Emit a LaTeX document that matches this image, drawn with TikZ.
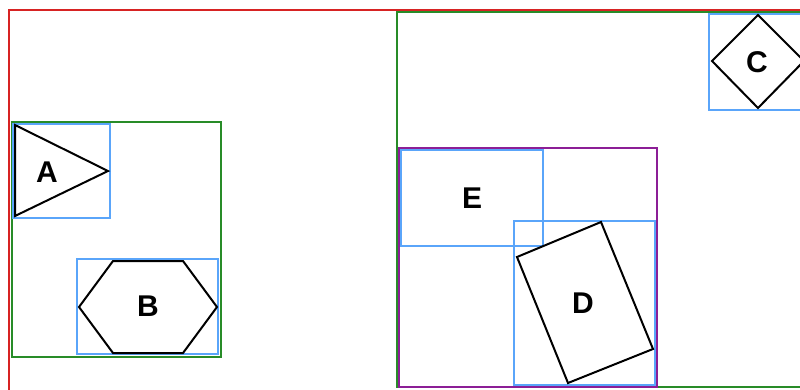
\documentclass[tikz,border=0pt]{standalone}
\usepackage{fontspec}
\setmainfont{Liberation Sans}
\begin{document}
\begin{tikzpicture}[x=1pt,y=-1pt,
  redbox/.style={draw={rgb,255:red,215;green,35;blue,35}, line width=2.5pt},
  greenbox/.style={draw={rgb,255:red,40;green,140;blue,40}, line width=2.5pt},
  purplebox/.style={draw={rgb,255:red,140;green,30;blue,150}, line width=2.5pt},
  bluebox/.style={draw={rgb,255:red,90;green,165;blue,250}, line width=2.5pt},
  shapeline/.style={draw=black, line width=2pt, line join=miter},
  lbl/.style={font=\fontsize{30}{32}\selectfont\bfseries, inner sep=0pt}]
\useasboundingbox (0,0) rectangle (800,389);
\clip (0,0) rectangle (800,389);
% containers
\draw[redbox] (9,10) rectangle (840,410);
\draw[greenbox] (12,122) rectangle (221,357);
\draw[greenbox] (397,12) rectangle (840,387);
\draw[purplebox] (399,148) rectangle (657,387);
% bounding boxes
\draw[bluebox] (13,124) rectangle (110,218);
\draw[bluebox] (77,259) rectangle (218,354);
\draw[bluebox] (709,14) rectangle (840,110);
\draw[bluebox] (401,150) rectangle (543,246);
\draw[bluebox] (514,221) rectangle (655,385);
% shapes
\draw[shapeline] (15,125) -- (108,171) -- (15,216) -- cycle;
\draw[shapeline] (79,307) -- (113,261) -- (183,261) -- (217,307) -- (183,353) -- (113,353) -- cycle;
\draw[shapeline] (712,61) -- (758,15) -- (804,61) -- (758,108) -- cycle;
\draw[shapeline] (517,257) -- (601,222) -- (653,349) -- (568,383) -- cycle;
% labels
\node[lbl] (la) at (47,172) {A};
\node[lbl] (lb) at (148,306) {B};
\node[lbl] (lc) at (757,62) {C};
\node[lbl] (le) at (472,198) {E};
\node[lbl] (ld) at (583,303) {D};
\end{tikzpicture}
\end{document}
